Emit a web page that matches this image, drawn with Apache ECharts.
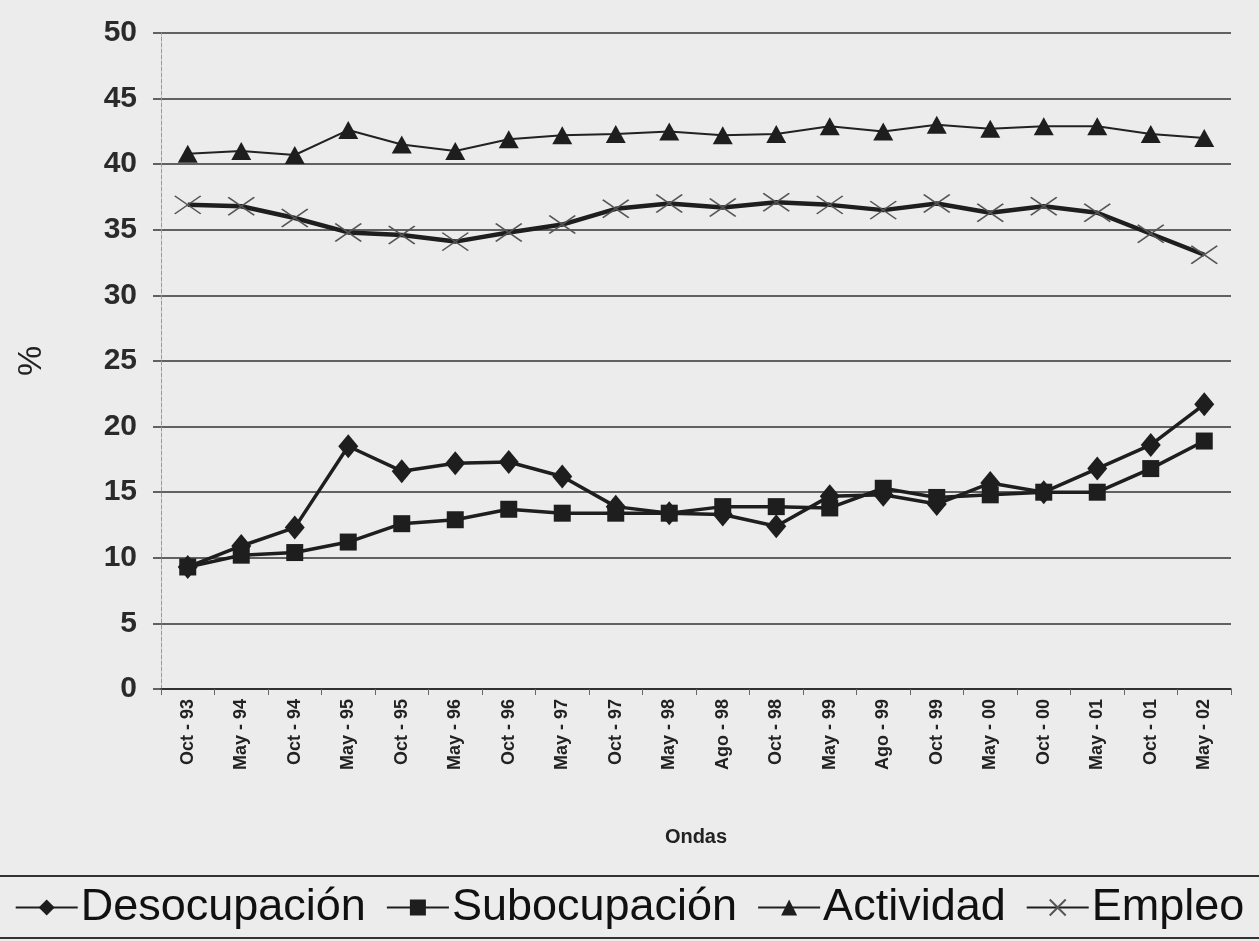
<!DOCTYPE html>
<html><head><meta charset="utf-8">
<script src="https://cdn.jsdelivr.net/npm/echarts@6/dist/echarts.min.js"></script>
<style>html,body{margin:0;padding:0;background:#ececec}#c{width:1259px;height:941px}</style>
</head><body><div id="c"></div>
<script>
const categories = ['Oct - 93','May - 94','Oct - 94','May - 95','Oct - 95','May - 96','Oct - 96','May - 97','Oct - 97','May - 98','Ago - 98','Oct - 98','May - 99','Ago - 99','Oct - 99','May - 00','Oct - 00','May - 01','Oct - 01','May - 02'];
const desocupacion = [9.3,10.9,12.3,18.5,16.6,17.2,17.3,16.2,13.9,13.4,13.3,12.4,14.7,14.8,14.1,15.7,15.0,16.8,18.6,21.7];
const subocupacion = [9.3,10.2,10.4,11.2,12.6,12.9,13.7,13.4,13.4,13.4,13.9,13.9,13.8,15.3,14.6,14.8,15.0,15.0,16.8,18.9];
const actividad = [40.8,41.0,40.7,42.6,41.5,41.0,41.9,42.2,42.3,42.5,42.2,42.3,42.9,42.5,43.0,42.7,42.9,42.9,42.3,42.0];
const empleo = [36.9,36.8,35.9,34.8,34.6,34.1,34.8,35.4,36.6,37.0,36.7,37.1,36.9,36.5,37.0,36.3,36.8,36.3,34.7,33.1];
const yTicks = [0,5,10,15,20,25,30,35,40,45,50];

const chart = echarts.init(document.getElementById('c'), null, {renderer:'canvas'});
const font = 'Liberation Sans, Arial, sans-serif';
chart.setOption({
  backgroundColor: '#ececec',
  animation: false,
  grid: {left: 161, right: 28, top: 33, bottom: 252},
  xAxis: {
    type: 'category', data: categories, boundaryGap: true,
    name: 'Ondas', nameLocation: 'middle', nameGap: 138,
    nameTextStyle: {fontFamily: font, fontWeight: 'bold', fontSize: 20, color: '#222'},
    axisLine: {show: true, lineStyle: {color: '#222', width: 1.5}},
    axisTick: {show: true, alignWithLabel: false, length: 6, lineStyle: {color: '#666'}},
    axisLabel: {rotate: 90, interval: 0, margin: 10, fontFamily: font, fontWeight: 'bold', fontSize: 18, color: '#222'}
  },
  yAxis: {
    type: 'value', min: yTicks[0], max: yTicks[yTicks.length-1], interval: 5,
    name: '%', nameLocation: 'middle', nameGap: 112,
    nameTextStyle: {fontFamily: font, fontSize: 34, color: '#222'},
    axisLine: {show: true, lineStyle: {color: '#999', type: 'dashed', width: 1}},
    axisTick: {show: true, length: 8, lineStyle: {color: '#333', width: 1.5}},
    axisLabel: {margin: 24, fontFamily: font, fontWeight: 'bold', fontSize: 30, color: '#2a2a2a'},
    splitLine: {show: true, lineStyle: {color: '#333', width: 1.5}}
  },
  legend: {
    bottom: 6, left: 'center', itemWidth: 62, itemHeight: 20, itemGap: 20,
    textStyle: {fontFamily: font, fontSize: 45, color: '#111', padding: [0,0,0,-2]},
    data: ['Desocupación','Subocupación','Actividad','Empleo']
  },
  graphic: [
    {type: 'line', shape: {x1: 0, y1: 876, x2: 1259, y2: 876}, style: {stroke: '#333', lineWidth: 2}},
    {type: 'line', shape: {x1: 0, y1: 938, x2: 1259, y2: 938}, style: {stroke: '#333', lineWidth: 2}}
  ],
  series: [
    {name: 'Desocupación', type: 'line', data: desocupacion, symbol: 'diamond', symbolSize: [20,24],
     lineStyle: {color: '#1e1e1e', width: 3.5}, itemStyle: {color: '#1e1e1e'}},
    {name: 'Subocupación', type: 'line', data: subocupacion, symbol: 'rect', symbolSize: 17,
     lineStyle: {color: '#1e1e1e', width: 3.5}, itemStyle: {color: '#1e1e1e'}},
    {name: 'Actividad', type: 'line', data: actividad, symbol: 'triangle', symbolSize: [20,18],
     lineStyle: {color: '#222', width: 2}, itemStyle: {color: '#1e1e1e'}},
    {name: 'Empleo', type: 'line', data: empleo, symbol: 'path://M0,0L10,7M10,0L0,7M5,0L5,0', symbolSize: [26,18],
     lineStyle: {color: '#1e1e1e', width: 4.5},
     itemStyle: {color: 'rgba(0,0,0,0)', borderColor: '#555', borderWidth: 1.6}}
  ]
});
</script></body></html>
